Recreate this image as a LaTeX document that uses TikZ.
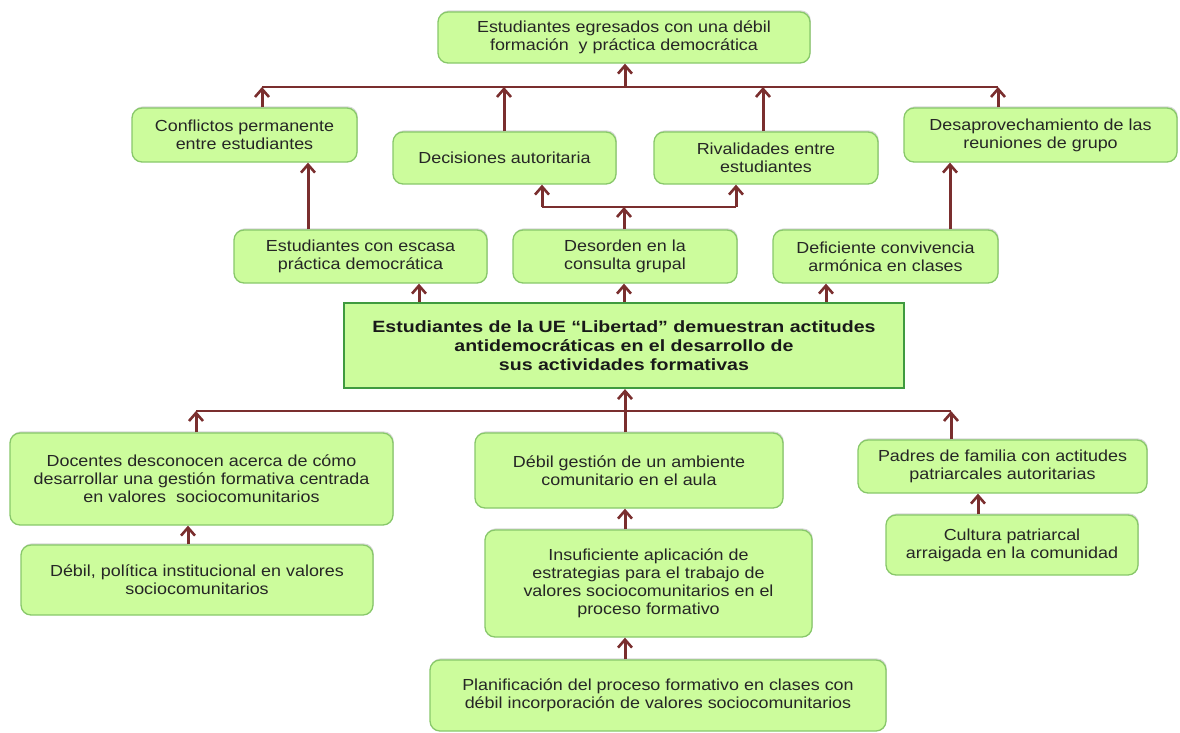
\documentclass[tikz,border=0pt]{standalone}
\usepackage{fontspec}
\setmainfont{Liberation Sans}
\newfontfamily\nrmfont[FakeStretch=1.12]{Liberation Sans}
\newfontfamily\mainfont[FakeStretch=1.2]{Liberation Sans}
\usetikzlibrary{arrows.meta,shadows}
\definecolor{boxfill}{HTML}{CCFC9C}
\definecolor{boxline}{HTML}{88C86A}
\definecolor{mainline}{HTML}{3F9A3F}
\definecolor{arr}{HTML}{7A2E2E}
\definecolor{txt}{HTML}{262626}
\tikzset{
  bx/.style={draw=boxline, line width=1.3pt, fill=boxfill, rounded corners=10pt, inner sep=0pt, align=center, text=txt,
    font=\nrmfont\fontsize{16}{18}\selectfont,
    drop shadow={shadow xshift=0.8pt, shadow yshift=1.6pt, opacity=0.25, fill=black!60}},
  mainbx/.style={draw=mainline, line width=2.2pt, fill=boxfill, inner sep=0pt, align=center, text=black!90,
    font=\mainfont\bfseries\fontsize{16.3}{19.2}\selectfont},
  conn/.style={draw=arr, line width=3pt, -{Straight Barb[length=8pt,width=14pt,line width=2.6pt]}},
  hline/.style={draw=arr, line width=1.8pt}
}
\newcommand{\bxnode}[7][bx]{%
  \node[#1, minimum width=#5pt-#3pt, minimum height=#6pt-#4pt] (#2) at ({(#3+#5)/2*1pt},{-(#4+#6)/2*1pt}) {#7};}
\begin{document}
\begin{tikzpicture}[x=1pt,y=-1pt]
\useasboundingbox (0,0) rectangle (1180,732);
% boxes
\bxnode{top}{438}{12}{810}{63}{Estudiantes egresados con una débil\\formación\ \ y práctica democrática}
\bxnode{conf}{132}{108}{357}{162}{Conflictos permanente\\entre estudiantes}
\bxnode{deci}{393}{132}{616}{184}{Decisiones autoritaria}
\bxnode{riva}{654}{132}{878}{184}{Rivalidades entre\\estudiantes}
\bxnode{desa}{904}{108}{1177}{162}{Desaprovechamiento de las\\reuniones de grupo}
\bxnode{esca}{234}{230}{487}{283}{Estudiantes con escasa\\práctica democrática}
\bxnode{deso}{513}{230}{737}{283}{Desorden en la\\consulta grupal}
\bxnode{defi}{773}{230}{998}{283}{Deficiente convivencia\\armónica en clases}
\bxnode[mainbx]{main}{344}{303}{904}{388}{Estudiantes de la UE “Libertad” demuestran actitudes\\antidemocráticas en el desarrollo de\\sus actividades formativas}
\bxnode{doce}{10}{433}{393}{525}{Docentes desconocen acerca de cómo\\desarrollar una gestión formativa centrada\\en valores\ \ sociocomunitarios}
\bxnode{gest}{475}{433}{783}{508}{Débil gestión de un ambiente\\comunitario en el aula}
\bxnode{padr}{858}{440}{1147}{493}{Padres de familia con actitudes\\patriarcales autoritarias}
\bxnode{poli}{21}{545}{373}{615}{Débil, política institucional\ en valores\\sociocomunitarios}
\bxnode{insu}{485}{530}{812}{637}{Insuficiente aplicación de\\estrategias para el trabajo de\\valores sociocomunitarios en el\\proceso formativo}
\bxnode{cult}{886}{515}{1138}{575}{Cultura patriarcal\\arraigada en la comunidad}
\bxnode{plan}{430}{660}{886}{731}{Planificación del proceso formativo en clases con\\débil incorporación de valores sociocomunitarios}
% coordinates
\coordinate (t1) at (262,87);
\coordinate (t2) at (504,87);
\coordinate (t3) at (625,87);
\coordinate (t4) at (763,87);
\coordinate (t5) at (998,87);
\coordinate (m1) at (542,207);
\coordinate (m2) at (624,207);
\coordinate (m3) at (736,207);
\coordinate (b1) at (196,411);
\coordinate (b2) at (625,411);
\coordinate (b3) at (951,411);
% top layer
\draw[hline] (t1) -- (t5);
\draw[conn] (t3) -- (t3 |- top.south);
\draw[conn] (conf.north -| t1) -- (t1);
\draw[conn] (deci.north -| t2) -- (t2);
\draw[conn] (riva.north -| t4) -- (t4);
\draw[conn] (desa.north -| t5) -- (t5);
% middle layer
\draw[conn] (esca.north -| 308,0) -- (conf.south -| 308,0);
\draw[conn] (defi.north -| 950,0) -- (desa.south -| 950,0);
\draw[hline] (m1) -- (m3);
\draw[conn] (m1) -- (m1 |- deci.south);
\draw[conn] (m3) -- (m3 |- riva.south);
\draw[conn] (deso.north -| m2) -- (m2);
% main to effects
\draw[conn] (main.north -| 419,0) -- (esca.south -| 419,0);
\draw[conn] (main.north -| m2) -- (deso.south -| m2);
\draw[conn] (main.north -| 826,0) -- (defi.south -| 826,0);
% causes
\draw[hline] (b1) -- (b3);
\draw[conn] (gest.north -| b2) -- (main.south -| b2);
\draw[conn] (doce.north -| b1) -- (b1);
\draw[conn] (padr.north -| b3) -- (b3);
\draw[conn] (poli.north -| 188,0) -- (doce.south -| 188,0);
\draw[conn] (insu.north -| b2) -- (gest.south -| b2);
\draw[conn] (cult.north -| 978,0) -- (padr.south -| 978,0);
\draw[conn] (plan.north -| b2) -- (insu.south -| b2);
\end{tikzpicture}
\end{document}
